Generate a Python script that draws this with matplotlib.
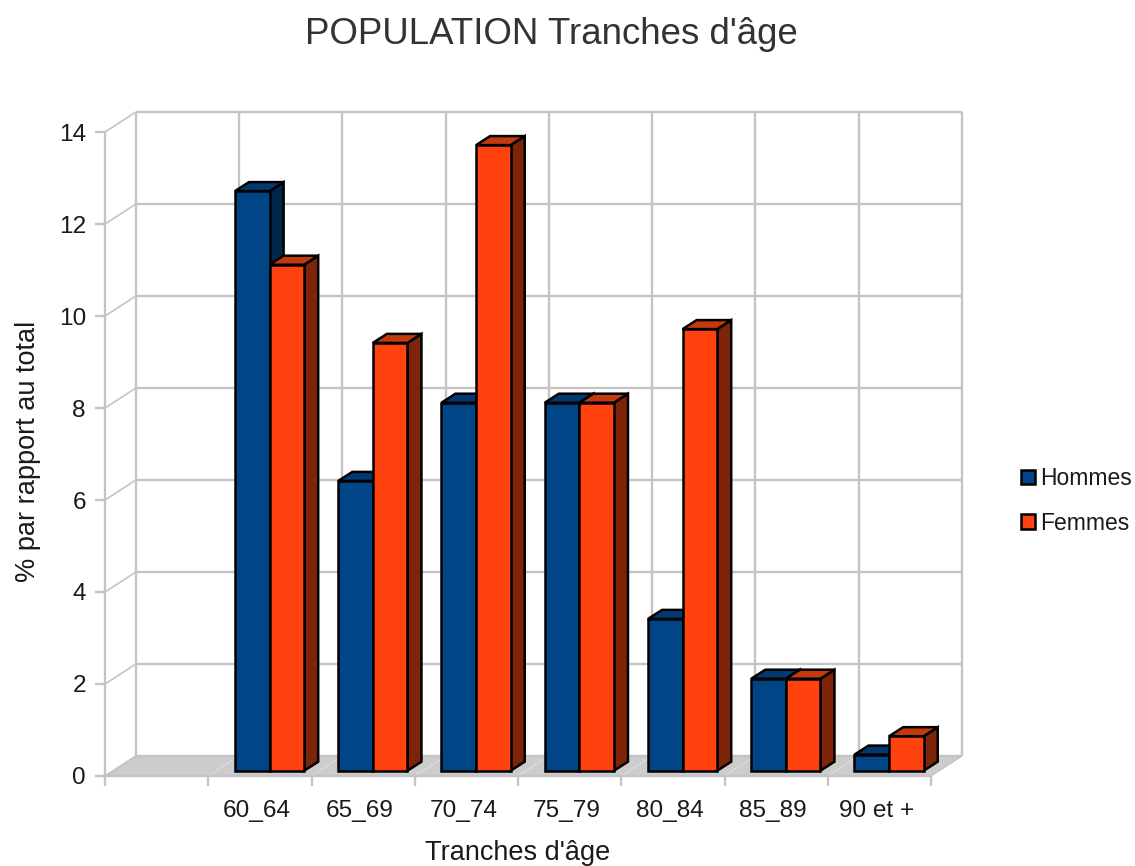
import matplotlib
matplotlib.use("Agg")
import matplotlib.pyplot as plt
from matplotlib.patches import Polygon, Patch

# Values
CATEGORIES = ["", "60_64", "65_69", "70_74", "75_79", "80_84", "85_89", "90 et +"]
HOMMES = [12.6, 6.3, 8.0, 8.0, 3.3, 2.0, 0.35]
FEMMES = [11.0, 9.3, 13.6, 8.0, 9.6, 2.0, 0.75]
Y_TICKS = [0, 2, 4, 6, 8, 10, 12, 14]

# Plot colours
HOMMES_COLOURS = ["#004586", "#003A70", "#00264A"]  # front, top, side
FEMMES_COLOURS = ["#FF420E", "#C43A0C", "#7E2408"]
GRID_COLOUR = "#C4C4C4"
FLOOR_COLOUR = "#CCCCCC"
TEXT_COLOUR = "#1A1A1A"

# Fake 3D depth, in data units (category units, value units)
WALL_DX, WALL_DY = 0.30, 0.435
BAR_DX0, BAR_DY0 = 0.259, 0.115
BAR_DX, BAR_DY = 0.136, 0.196
BAR_WIDTH = 0.335
EDGE_LW = 1.8

plt.rcParams["font.family"] = ["Liberation Sans", "DejaVu Sans"]

W, H = 1135, 866
fig = plt.figure(figsize=(W / 100, H / 100), dpi=100)
ax = fig.add_axes([105 / W, (H - 776) / H, 826 / W, 644 / H])
n_cat = len(CATEGORIES)
ax.set_xlim(0, n_cat)
ax.set_ylim(0, 14)


def grid_line(xs, ys, lw=1.7, colour=GRID_COLOUR):
    ax.plot(xs, ys, color=colour, lw=lw, clip_on=False, zorder=1, solid_capstyle="butt")


# Floor
ax.add_patch(Polygon(
    [(0, 0), (WALL_DX, WALL_DY), (n_cat + WALL_DX, WALL_DY), (n_cat, 0)],
    closed=True, facecolor=FLOOR_COLOUR, edgecolor="none", clip_on=False, zorder=0.5))

# Back wall grid and side connectors
for v in Y_TICKS:
    grid_line([WALL_DX, n_cat + WALL_DX], [v + WALL_DY, v + WALL_DY])
    grid_line([0, WALL_DX], [v, v + WALL_DY], lw=1.2)
for i in range(n_cat + 1):
    grid_line([i + WALL_DX, i + WALL_DX], [WALL_DY, 14 + WALL_DY])
    grid_line([i, i + WALL_DX], [0, WALL_DY], lw=1.0, colour="#DADADA" if i not in (0, n_cat) else GRID_COLOUR)


def bar3d(x, value, colours, z):
    y0 = BAR_DY0
    y1 = BAR_DY0 + value
    x1 = x + BAR_WIDTH
    style = dict(edgecolor="black", lw=EDGE_LW, joinstyle="miter", clip_on=False, zorder=z)
    side = [(x1, y0), (x1 + BAR_DX, y0 + BAR_DY), (x1 + BAR_DX, y1 + BAR_DY), (x1, y1)]
    top = [(x, y1), (x + BAR_DX, y1 + BAR_DY), (x1 + BAR_DX, y1 + BAR_DY), (x1, y1)]
    front = [(x, y0), (x1, y0), (x1, y1), (x, y1)]
    ax.add_patch(Polygon(side, closed=True, facecolor=colours[2], **style))
    ax.add_patch(Polygon(top, closed=True, facecolor=colours[1], **style))
    ax.add_patch(Polygon(front, closed=True, facecolor=colours[0], **style))


for i, (h, f) in enumerate(zip(HOMMES, FEMMES)):
    x = i + 1 + BAR_DX0
    bar3d(x, h, HOMMES_COLOURS, 3 + i)
    bar3d(x + BAR_WIDTH, f, FEMMES_COLOURS, 3.5 + i)

# Front axes
for name in ("top", "right"):
    ax.spines[name].set_visible(False)
for name in ("left", "bottom"):
    ax.spines[name].set_color(GRID_COLOUR)
    ax.spines[name].set_linewidth(1.7)
ax.patch.set_visible(False)

ax.set_yticks(Y_TICKS)
ax.set_xticks(range(n_cat + 1))
ax.set_xticklabels([])
ax.set_xticks([i + 0.47 for i in range(n_cat)], CATEGORIES, minor=True)
ax.tick_params(axis="both", which="major", length=7.2, width=1.7, color=GRID_COLOUR)
ax.tick_params(axis="y", labelsize=17.6, labelcolor=TEXT_COLOUR, pad=6.5)
ax.tick_params(axis="x", which="minor", length=0, labelsize=17.6, labelcolor=TEXT_COLOUR, pad=17)

ax.set_xlabel("Tranches d'âge", fontsize=19.5, color=TEXT_COLOUR, labelpad=13.5, x=0.499)
ax.set_ylabel("% par rapport au total", fontsize=19.5, color=TEXT_COLOUR, labelpad=13, y=0.504)

fig.text(551 / W, 1 - 34 / H, "POPULATION Tranches d'âge", fontsize=26.4,
         color="#333333", ha="center", va="center")

handles = [
    Patch(facecolor=HOMMES_COLOURS[0], edgecolor="black", lw=EDGE_LW, label="Hommes"),
    Patch(facecolor=FEMMES_COLOURS[0], edgecolor="black", lw=EDGE_LW, label="Femmes"),
]
fig.legend(handles=handles, loc="center left", bbox_to_anchor=(1021 / W, 1 - 501 / H),
           frameon=False, fontsize=16.5, handlelength=0.62, handleheight=0.62,
           handletextpad=0.2, labelspacing=0.95, borderpad=0, borderaxespad=0,
           labelcolor=TEXT_COLOUR)

fig.savefig("out.png", dpi=100)
